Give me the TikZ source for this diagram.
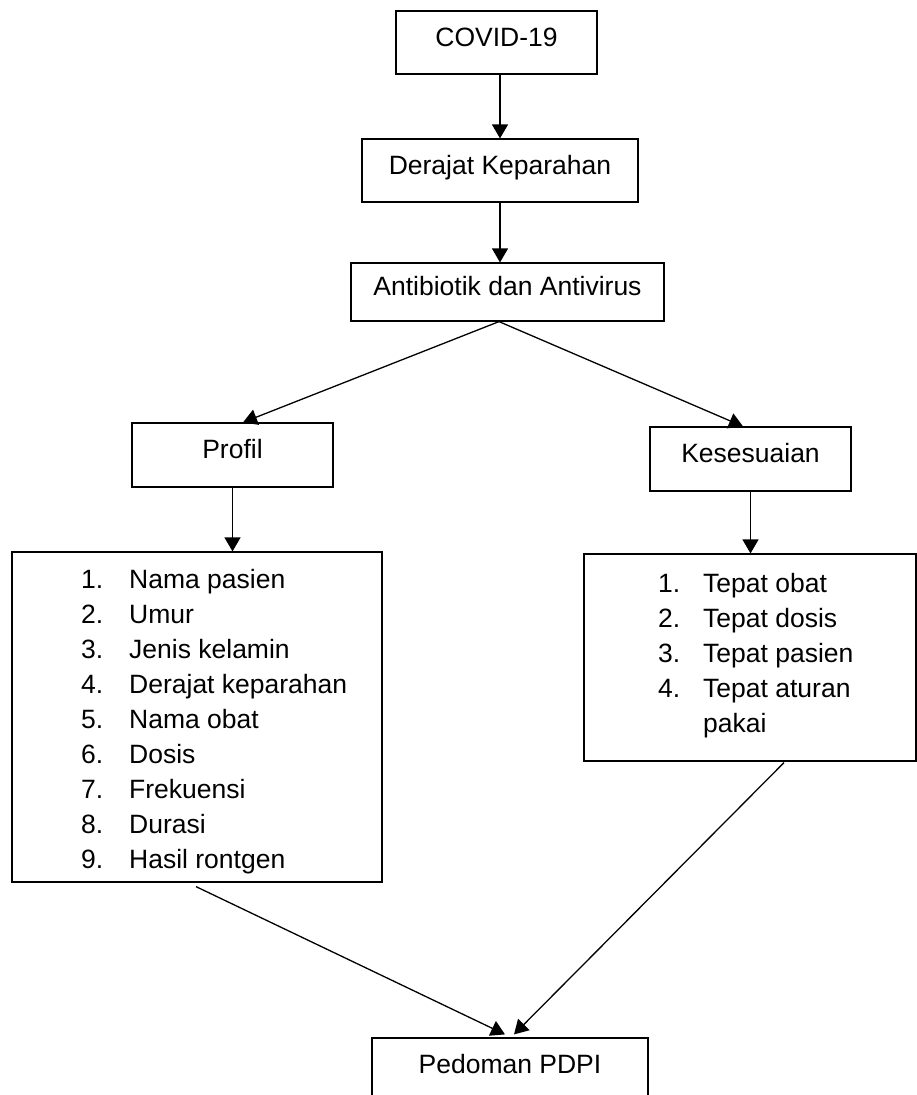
\documentclass[tikz,border=0pt]{standalone}
\usepackage{fontspec}
\setmainfont{Liberation Sans}
\usetikzlibrary{arrows.meta,calc}

\begin{document}
\begin{tikzpicture}[
  x=1pt, y=-1pt,
  font=\fontsize{26.5}{35}\selectfont,
  box/.style={
    draw, line width=1.2pt, fill=white, inner sep=0pt,
    text height=19pt, text depth=12pt
  },
  entry/.style={anchor=base west, inner sep=0pt},
  arr/.style={-{Triangle[length=14pt,width=16pt]}, line width=1.3pt}
]

\clip (0,0) rectangle (917,1095);

\node[box, minimum width=201pt, minimum height=63pt] (covid)   at (496.5,42.5) {COVID-19};
\node[box, minimum width=276pt, minimum height=63pt] (derajat) at (500,170.5)  {Derajat Keparahan};
\node[box, minimum width=313pt, minimum height=58pt] (anti)    at (507.5,292)  {Antibiotik dan Antivirus};

\node[box, minimum width=201pt, minimum height=64pt] (profil) at (232.5,455) {Profil};
\node[box, minimum width=201pt, minimum height=64pt] (kes)    at (750.5,459) {Kesesuaian};

\node[box, minimum width=370pt, minimum height=330pt] (items) at (197,717) {};
\node[box, minimum width=332pt, minimum height=207pt] (crit)  at (750,657.5) {};

\node[box, minimum width=276pt, minimum height=64pt] (pdpi) at (510,1070) {Pedoman PDPI};

% isi profil
\foreach \num/\txt [count=\k from 0] in {1/Nama pasien, 2/Umur, 3/Jenis kelamin,
    4/Derajat keparahan, 5/Nama obat, 6/Dosis, 7/Frekuensi, 8/Durasi, 9/Hasil rontgen} {
  \node[entry] (pn\num) at (81,588+35*\k)  {\num.};
  \node[entry] (pi\num) at (129,588+35*\k) {\txt};
}

% isi kesesuaian
\foreach \num/\txt [count=\k from 0] in {1/Tepat obat, 2/Tepat dosis, 3/Tepat pasien, 4/Tepat aturan} {
  \node[entry] (kn\num) at (658,592+35*\k) {\num.};
  \node[entry] (ki\num) at (703,592+35*\k) {\txt};
}
\node[entry] (ki5) at (703,732) {pakai};

\coordinate (fork) at ([xshift=-8.5pt]anti.south);

\draw[arr] (derajat.north |- covid.south) -- (derajat.north);
\draw[arr] (derajat.south) -- (derajat.south |- anti.north);
\draw[arr] (fork) -- ([xshift=10.5pt]profil.north);
\draw[arr] (fork) -- ([xshift=-7.5pt]kes.north);
\draw[arr] (profil.south) -- (profil.south |- items.north);
\draw[arr] (kes.south) -- (kes.south |- crit.north);
\draw[arr] ([xshift=-1pt,yshift=-4pt]items.south) -- ([xshift=-5pt,yshift=3pt]pdpi.north);
\draw[arr] ([xshift=34pt,yshift=-1pt]crit.south) -- ([xshift=4pt,yshift=3pt]pdpi.north);

\end{tikzpicture}
\end{document}
